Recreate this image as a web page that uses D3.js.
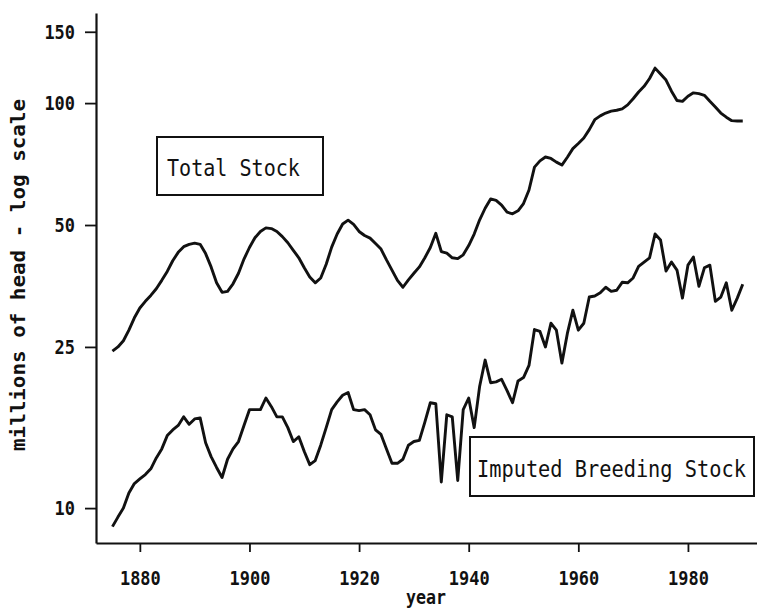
<!DOCTYPE html>
<html>
<head>
<meta charset="utf-8">
<script src="https://cdn.jsdelivr.net/npm/d3@7"></script>
<style>
  body { margin: 0; background: #fff; }
  svg text { font-family: "DejaVu Sans Mono", "Liberation Mono", monospace; fill: #111; font-weight: bold; }
</style>
</head>
<body>
<div id="chart"></div>
<script>
// yearly series, millions of head
var firstYear = 1875;

var totalStock = [
  24.4, 25.0, 25.9, 27.5, 29.5, 31.2, 32.4, 33.5, 34.8, 36.5,
  38.4, 40.8, 42.8, 44.2, 44.8, 45.1, 44.8, 42.5, 39.4, 36.0,
  34.1, 34.3, 35.8, 38.0, 41.2, 44.0, 46.5, 48.2, 49.2, 49.0,
  48.2, 46.8, 45.2, 43.3, 41.5, 39.2, 37.2, 36.0, 37.0, 40.0,
  44.1, 47.5, 50.3, 51.4, 50.2, 48.2, 47.1, 46.4, 45.0, 43.6,
  41.0, 38.7, 36.5, 35.1, 36.6, 38.0, 39.4, 41.5, 44.0, 47.7,
  43.0, 42.6, 41.5, 41.3, 42.2, 44.5, 47.5, 51.5, 55.0, 58.0,
  57.5, 56.0, 53.8, 53.3, 54.2, 56.5, 61.0, 69.5, 72.0, 73.6,
  73.0, 71.5, 70.3, 73.5, 77.2, 79.5, 82.0, 86.0, 91.0, 93.0,
  94.5, 95.5, 96.0, 96.8, 99.0, 102.5, 106.5, 110.0, 115.0, 122.0,
  118.0, 114.0, 107.0, 101.5, 101.0, 104.0, 106.0, 105.5, 104.5, 101.0,
  97.8, 94.5, 92.3, 90.5, 90.3, 90.3
];

var breedingStock = [
  9.0, 9.5, 10.0, 10.9, 11.5, 11.8, 12.1, 12.5, 13.3, 14.0,
  15.1, 15.6, 16.0, 16.8, 16.1, 16.6, 16.7, 14.5, 13.4, 12.6,
  11.9, 13.2, 14.0, 14.6, 16.0, 17.5, 17.5, 17.5, 18.7, 17.8,
  16.8, 16.8, 15.8, 14.6, 15.0, 13.8, 12.8, 13.1, 14.3, 15.8,
  17.5, 18.3, 19.0, 19.3, 17.5, 17.4, 17.5, 17.0, 15.6, 15.2,
  14.0, 12.9, 12.9, 13.2, 14.3, 14.6, 14.7, 16.3, 18.2, 18.1,
  11.6, 17.0, 16.8, 11.7, 17.5, 18.7, 15.8, 20.0, 23.2, 20.4,
  20.5, 20.8, 19.5, 18.2, 20.6, 21.0, 22.5, 27.6, 27.3, 25.0,
  28.6, 27.5, 22.8, 27.0, 30.8, 27.5, 28.6, 33.2, 33.4, 34.0,
  35.1, 34.3, 34.5, 36.1, 36.0, 37.0, 39.5, 40.5, 41.5, 47.5,
  45.9, 38.5, 40.5, 38.7, 33.0, 39.8, 41.7, 35.3, 39.2, 39.8,
  32.4, 33.2, 36.0, 30.8, 33.0, 35.7
];

var yearTicks = [1880, 1900, 1920, 1940, 1960, 1980];
var valueTicks = [10, 25, 50, 100, 150];

var width = 757, height = 610;

var svg = d3.select('#chart').append('svg')
    .attr('width', width)
    .attr('height', height);

var x = d3.scaleLinear().domain([1872, 1992.6]).range([96, 757]);
var y = d3.scaleLog().domain([8.2, 166.9]).range([543, 13]);

var line = d3.line()
    .x(function(d, i) { return x(firstYear + i); })
    .y(function(d) { return y(d); });

// axes
var xAxis = svg.append('g')
    .attr('transform', 'translate(0,543)')
    .call(d3.axisBottom(x).tickValues(yearTicks).tickFormat(d3.format('d'))
      .tickSize(9).tickSizeOuter(0).tickPadding(19));

var yAxis = svg.append('g')
    .attr('transform', 'translate(96,0)')
    .call(d3.axisLeft(y).tickValues(valueTicks).tickFormat(d3.format('d'))
      .tickSize(11).tickSizeOuter(0).tickPadding(10));

// plotter font: narrow and tall, so squeeze the glyphs
[xAxis, yAxis].forEach(function(g) {
  g.select('.domain').attr('stroke', '#111').attr('stroke-width', 2.2);
  g.selectAll('.tick line').attr('stroke', '#111').attr('stroke-width', 1.8);
  g.selectAll('.tick text')
    .attr('fill', '#111')
    .attr('textLength', function(d) { return String(d).length * 10.2; })
    .attr('lengthAdjust', 'spacingAndGlyphs')
    .style('font-size', '20px')
    .style('font-family', '"DejaVu Sans Mono", monospace')
    .style('font-weight', 'bold');
});

svg.append('text')
    .attr('x', 426).attr('y', 604)
    .attr('text-anchor', 'middle')
    .attr('textLength', 40)
    .attr('lengthAdjust', 'spacingAndGlyphs')
    .style('font-size', '20px')
    .text('year');

svg.append('text')
    .attr('transform', 'translate(25,275) rotate(-90)')
    .attr('text-anchor', 'middle')
    .attr('textLength', 352)
    .attr('lengthAdjust', 'spacingAndGlyphs')
    .style('font-size', '20px')
    .text('millions of head - log scale');

// series
[totalStock, breedingStock].forEach(function(s) {
  svg.append('path')
      .datum(s)
      .attr('fill', 'none')
      .attr('stroke', '#111')
      .attr('stroke-width', 2.9)
      .attr('stroke-linejoin', 'round')
      .attr('d', line);
});

// labels in boxes, squeezed horizontally to the wanted width
function boxLabel(bx, by, bw, bh, tx, ty, label, len) {
  svg.append('rect')
      .attr('x', bx).attr('y', by)
      .attr('width', bw).attr('height', bh)
      .attr('fill', '#fff')
      .attr('stroke', '#111')
      .attr('stroke-width', 2);
  var t = svg.append('text')
      .style('font-size', '23px')
      .style('font-weight', 'normal')
      .text(label);
  var sx = len / t.node().getComputedTextLength();
  t.attr('transform', 'translate(' + tx + ',' + ty + ') scale(' + sx + ',1)');
}

boxLabel(157, 137, 166, 58, 167, 176, 'Total Stock', 133);
boxLabel(470, 437, 284, 59, 477, 477, 'Imputed Breeding Stock', 269);
</script>
</body>
</html>
